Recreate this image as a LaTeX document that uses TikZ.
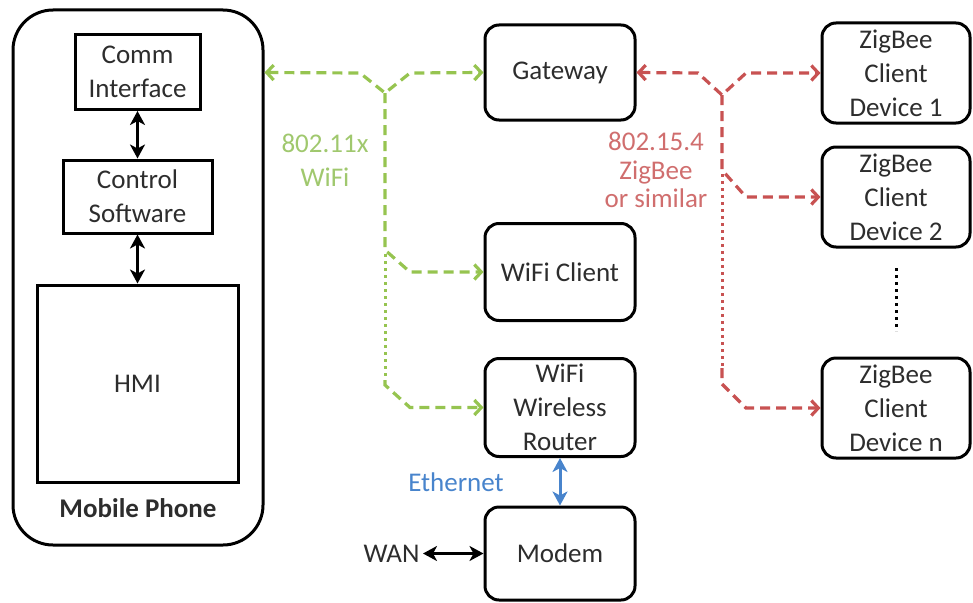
\documentclass[tikz,border=0pt]{standalone}
\usepackage{fontspec}
\setmainfont{Carlito}
\usetikzlibrary{arrows.meta,positioning}
\definecolor{wifigreen}{RGB}{150,196,80}
\definecolor{wifitext}{RGB}{160,200,110}
\definecolor{zigred}{RGB}{200,82,82}
\definecolor{zigtext}{RGB}{208,110,110}
\definecolor{ethblue}{RGB}{72,132,204}
\definecolor{txtgray}{RGB}{45,45,45}
\tikzset{font=\fontsize{27}{34}\selectfont}
\tikzstyle{blk}=[draw,line width=3pt,align=center,inner sep=0pt,text=txtgray]
\tikzstyle{rbox}=[blk,rounded corners=14pt,minimum width=150pt]
\tikzstyle{wifiln}=[wifigreen,line width=3.2pt,dash pattern=on 10pt off 6pt]
\tikzstyle{zigln}=[zigred,line width=3.2pt,dash pattern=on 10pt off 6pt]
\tikzstyle{dotln}=[line width=3pt,dash pattern=on 3pt off 4pt]
\tikzstyle{barb}=[>={Straight Barb[length=7pt,width=15pt]}]
\tikzstyle{solid2}=[line width=3pt,>={Stealth[length=14pt,width=15pt,inset=4pt]}]

\begin{document}
\begin{tikzpicture}[x=1pt,y=-1pt]
\useasboundingbox (0,0) rectangle (973,602);
% mobile phone
\node[blk,rounded corners=40pt,minimum width=250pt,minimum height=535pt] (P) at (138,277.5) {};
\node[blk,minimum width=125pt,minimum height=75pt] (CI) at (137.5,72) {Comm\\Interface};
\node[blk,minimum width=149pt,minimum height=73pt] (CS) at (137.5,196.5) {Control\\Software};
\node[blk,minimum width=201pt,minimum height=197pt] (HMI) at (137.5,383.5) {HMI};
\node[text=txtgray,font=\fontsize{27}{32}\selectfont\bfseries] (PL) at (138,508) {Mobile Phone};
% middle column
\node[rbox,minimum height=95pt] (GW) at (560,72.5) {Gateway};
\node[rbox,minimum height=97pt] (WC) at (560,272) {WiFi Client};
\node[rbox,minimum height=98pt] (WR) at (560,407.5) {WiFi\\Wireless\\Router};
\node[rbox,minimum height=93pt] (MO) at (560,553.5) {Modem};
\node[text=txtgray,anchor=east] (WAN) at (423,553.5) {WAN};
% zigbee devices
\node[rbox,minimum width=148pt,minimum height=100pt] (D1) at (896,73) {ZigBee\\Client\\Device 1};
\node[rbox,minimum width=148pt,minimum height=100pt] (D2) at (896,197) {ZigBee\\Client\\Device 2};
\node[rbox,minimum width=148pt,minimum height=100pt] (DN) at (896,408) {ZigBee\\Client\\Device n};
\coordinate (DT) at (896,268);
\coordinate (DB) at (896,331);
\draw[dotln] (DT) -- (DB);
% labels
\node[text=wifitext,align=center] (WL) at (325,160) {802.11x\\WiFi};
\node[text=zigtext,align=center,font=\fontsize{27}{28.5}\selectfont] (ZL) at (656,170) {802.15.4\\ZigBee\\or similar};
\node[text=ethblue] (EL) at (456,482) {Ethernet};
% inside the phone
\path[solid2,<->]
(CI) edge (CS)
(CS) edge (HMI);
\draw[solid2,<->] (WAN) -- (MO);
\draw[solid2,<->,ethblue] (WR) -- (MO);
% wifi links
\coordinate (WJ) at (385,93);
\draw[wifiln,barb,<->] (GW.west -| P.east) -- (360,73) -- (WJ) -- (410,73) -- (GW.west);
\draw[wifiln,barb,->] (WJ) -- (385,250) -- (410,272) -- (WC.west);
\draw[dotln,wifigreen] (385,254) -- (385,378);
\draw[wifiln,barb,->] (385,380) -- (385,385) -- (410,407.5) -- (WR.west);
% zigbee links
\coordinate (ZJ) at (722,95);
\draw[zigln,barb,<->] (GW.east) -- (698,73) -- (ZJ) -- (746,73) -- (D1.west);
\draw[zigln,barb,->] (ZJ) -- (722,170) -- (746,197) -- (D2.west);
\draw[dotln,zigred] (722,174) -- (722,366);
\draw[zigln,barb,->] (722,368) -- (722,384) -- (746,408) -- (DN.west);
\end{tikzpicture}
\end{document}
